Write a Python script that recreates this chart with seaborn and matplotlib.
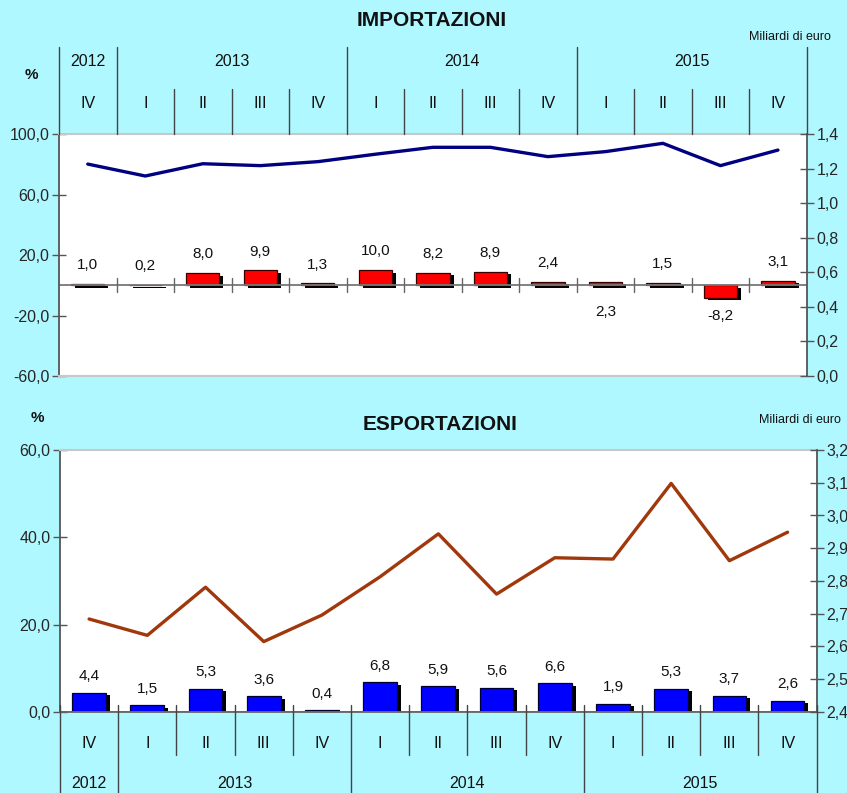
import numpy as np
import pandas as pd
import matplotlib
matplotlib.use("Agg")
import matplotlib.pyplot as plt
import matplotlib.transforms as mtransforms
from matplotlib.lines import Line2D
import seaborn as sns

# ---------------- data ----------------
quarters = ["IV", "I", "II", "III", "IV", "I", "II", "III", "IV", "I", "II", "III", "IV"]
years = ["2012", "2013", "2014", "2015"]
year_span = [1, 4, 4, 4]

imp_pct = [1.0, 0.2, 8.0, 9.9, 1.3, 10.0, 8.2, 8.9, 2.4, 2.3, 1.5, -8.2, 3.1]
imp_bn = [1.226, 1.157, 1.228, 1.217, 1.240, 1.283, 1.323, 1.323, 1.269, 1.298, 1.346, 1.217, 1.307]
imp_labels_below = [9, 11]

exp_pct = [4.4, 1.5, 5.3, 3.6, 0.4, 6.8, 5.9, 5.6, 6.6, 1.9, 5.3, 3.7, 2.6]
exp_bn = [2.684, 2.634, 2.781, 2.615, 2.696, 2.813, 2.944, 2.760, 2.871, 2.867, 3.098, 2.862, 2.949]

# ---------------- style ----------------
W, H = 847, 793
BG = "#B0F8FF"
AXC = "#555555"
FONT = ["Liberation Sans", "DejaVu Sans"]

sns.set_theme(style="white")
plt.rcParams["font.family"] = FONT
plt.rcParams["axes.linewidth"] = 1.0
plt.rcParams["text.color"] = "#111111"

fig = plt.figure(figsize=(W / 100, H / 100), dpi=100, facecolor=BG)


def rect(x0, y0, x1, y1):
    return [x0 / W, 1 - y1 / H, (x1 - x0) / W, (y1 - y0) / H]


def fy(y):
    return 1 - y / H


def comma(v, d=1):
    return f"{v:.{d}f}".replace(".", ",")


pos = np.arange(len(quarters))


def make_panel(box, pct, bn, ylim, yticks, ylim2, yticks2, bar_color, edge_color, line_color,
               label_off, below=(), below_off=()):
    ax = fig.add_axes(rect(*box))
    ax.set_facecolor("white")
    df = pd.DataFrame({"pos": pos, "pct": pct, "bn": bn})

    # shadows
    sns.barplot(data=df, x="pos", y="pct", ax=ax, color="black", saturation=1,
                width=0.58, errorbar=None, linewidth=0, native_scale=True)
    n_sh = len(ax.patches)
    off = mtransforms.Affine2D().translate(4, -2.5)
    for p in ax.patches[:n_sh]:
        p.set_transform(p.get_data_transform() + off)
    sns.barplot(data=df, x="pos", y="pct", ax=ax, color=bar_color, saturation=1,
                width=0.58, errorbar=None, edgecolor=edge_color, linewidth=0.9,
                native_scale=True)

    ax.set_xlim(-0.5, len(pos) - 0.5)
    ax.set_ylim(*ylim)
    ax.set_yticks(yticks)
    ax.set_yticklabels([comma(v) for v in yticks])
    ax.set_xticks([])
    ax.set_xlabel("")
    ax.set_ylabel("")
    ax.tick_params(axis="y", direction="inout", length=10, width=1, color=AXC,
                   labelsize=11.5, pad=2, left=True)
    ax.axhline(0, color="#777777", lw=1.3, zorder=1)
    for s in ["top", "bottom"]:
        ax.spines[s].set_color("#C8C8C8")
        ax.spines[s].set_linewidth(1.5)
    ax.spines["left"].set_color(AXC)
    ax.spines["left"].set_linewidth(1.3)
    ax.spines["right"].set_visible(False)

    # value labels
    for i, v in enumerate(pct):
        if i in below:
            k = list(below).index(i)
            ax.annotate(comma(v), (i, min(v, 0)), xytext=(0, -below_off[k]),
                        textcoords="offset points", ha="center", va="center", fontsize=11)
        else:
            ax.annotate(comma(v), (i, max(v, 0)), xytext=(0, label_off),
                        textcoords="offset points", ha="center", va="center", fontsize=11)

    ax2 = ax.twinx()
    sns.lineplot(data=df, x="pos", y="bn", ax=ax2, color=line_color, lw=2.4)
    ax2.set_ylim(*ylim2)
    ax2.set_yticks(yticks2)
    ax2.set_yticklabels([comma(v) for v in yticks2])
    ax2.set_xlim(-0.5, len(pos) - 0.5)
    ax2.set_xlabel("")
    ax2.set_ylabel("")
    ax2.tick_params(axis="y", direction="inout", length=10, width=1, color=AXC,
                    labelsize=11.5, pad=2, right=True)
    for s in ["top", "bottom", "left"]:
        ax2.spines[s].set_visible(False)
    ax2.spines["right"].set_color(AXC)
    ax2.spines["right"].set_linewidth(1.3)
    return ax, ax2


# ---------------- top panel: IMPORTAZIONI ----------------
axT, axT2 = make_panel((59, 134, 806.7, 376), imp_pct, imp_bn, (-60, 100), [-60, -20, 20, 60, 100],
                       (0, 1.4), list(np.round(np.arange(0, 1.41, 0.2), 1)),
                       "#FF0000", "#3A0000", "#000080", 13.5,
                       below=imp_labels_below, below_off=(19, 13))

# ---------------- bottom panel: ESPORTAZIONI ----------------
axB, axB2 = make_panel((60, 450, 816.7, 712), exp_pct, exp_bn, (0, 60), [0, 20, 40, 60],
                       (2.4, 3.2), list(np.round(np.arange(2.4, 3.21, 0.1), 1)),
                       "#0000FF", "#000030", "#A0380C", 12)
axB.spines["bottom"].set_color("#666666")
axB.spines["bottom"].set_linewidth(1.3)

# year start indices
starts = np.cumsum([0] + year_span)
year_bounds = [s - 0.5 for s in starts]
year_centers = [(starts[i] + starts[i + 1] - 1) / 2 for i in range(len(years))]
quarter_bounds = [b + 0.5 for b in range(len(pos) - 1) if (b + 0.5) not in year_bounds]

LC = "#444444"
# top header table
trT = mtransforms.blended_transform_factory(axT.transData, fig.transFigure)
for b in year_bounds:
    fig.add_artist(Line2D([b, b], [fy(47), fy(134)], transform=trT, color=LC, lw=1))
for b in quarter_bounds:
    fig.add_artist(Line2D([b, b], [fy(89), fy(134)], transform=trT, color=LC, lw=1))
for c, y in zip(year_centers, years):
    fig.text(c, fy(61), y, transform=trT, ha="center", va="center", fontsize=11.5)
for i, q in enumerate(quarters):
    fig.text(i, fy(103), q, transform=trT, ha="center", va="center", fontsize=11.5)
# ticks on the zero line
for b in [k + 0.5 for k in range(len(pos) - 1)]:
    axT.plot([b, b], [-4.5, 4.5], color="#666666", lw=1, zorder=1)

# bottom header table
trB = mtransforms.blended_transform_factory(axB.transData, fig.transFigure)
for b in year_bounds:
    fig.add_artist(Line2D([b, b], [fy(705), fy(793)], transform=trB, color=LC, lw=1))
for b in quarter_bounds:
    fig.add_artist(Line2D([b, b], [fy(705), fy(755)], transform=trB, color=LC, lw=1))
for c, y in zip(year_centers, years):
    fig.text(c, fy(783), y, transform=trB, ha="center", va="center", fontsize=11.5)
for i, q in enumerate(quarters):
    fig.text(i, fy(743), q, transform=trB, ha="center", va="center", fontsize=11.5)

# titles and units
fig.text(432 / W, fy(21), "IMPORTAZIONI", ha="center", va="center", fontsize=15, fontweight="bold")
fig.text(440 / W, fy(425), "ESPORTAZIONI", ha="center", va="center", fontsize=15, fontweight="bold")
fig.text(31 / W, fy(75), "%", ha="center", va="center", fontsize=11, fontweight="bold")
fig.text(37 / W, fy(418), "%", ha="center", va="center", fontsize=11, fontweight="bold")
fig.text(790 / W, fy(37), "Miliardi di euro", ha="center", va="center", fontsize=9)
fig.text(800 / W, fy(420), "Miliardi di euro", ha="center", va="center", fontsize=9)

fig.savefig("out.png", dpi=100, facecolor=BG)
